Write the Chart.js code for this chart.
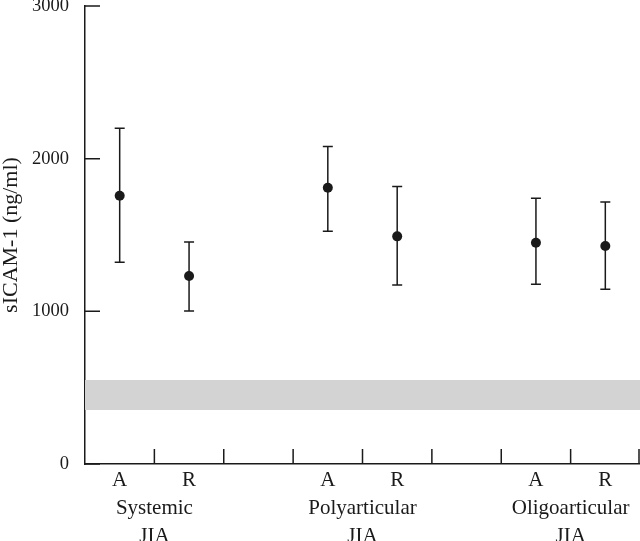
<!DOCTYPE html>
<html>
<head>
<meta charset="utf-8">
<script src="https://cdn.jsdelivr.net/npm/chart.js@4.4.0/dist/chart.umd.min.js"></script>
<style>
  html, body { margin: 0; padding: 0; background: #fff; }
  #wrap { width: 640px; height: 541px; }
</style>
</head>
<body>
<div id="wrap"><canvas id="chart"></canvas></div>
<script>
const groups = [['Systemic', 'JIA'], ['Polyarticular', 'JIA'], ['Oligoarticular', 'JIA']];
const phases = ['A', 'R'];
const means = [1757, 1231, 1810, 1491, 1449, 1428];
const lows = [1321, 1002, 1524, 1172, 1177, 1144];
const highs = [2200, 1454, 2080, 1818, 1740, 1716];
const normalRange = [354, 550];
const yTicks = [0, 1000, 2000, 3000];

// one empty slot between groups, none after the last one
const slotsPerGroup = phases.length + 1;
const slotCount = groups.length * slotsPerGroup - 1;
const font = "'Liberation Serif', 'Times New Roman', serif";
const ink = '#1a1a1a';

const points = means.map((m, i) => {
  const g = Math.floor(i / phases.length), p = i % phases.length;
  return { x: g * slotsPerGroup + p + 0.5, y: m };
});

const tickLabels = {};
groups.forEach((g, gi) => {
  phases.forEach((p, pi) => { tickLabels[gi * slotsPerGroup + pi + 0.5] = p; });
  tickLabels[gi * slotsPerGroup + phases.length / 2] = ['', ...g];
});

const errorBars = {
  id: 'errorBars',
  beforeDatasetDraw(chart, args) {
    if (args.index !== 2) return;
    const { ctx, scales: { x, y } } = chart;
    ctx.save();
    ctx.strokeStyle = ink;
    ctx.lineWidth = 1.5;
    points.forEach((p, i) => {
      const px = x.getPixelForValue(p.x);
      const top = y.getPixelForValue(highs[i]);
      const bot = y.getPixelForValue(lows[i]);
      ctx.beginPath();
      ctx.moveTo(px, top); ctx.lineTo(px, bot);
      ctx.moveTo(px - 5, top); ctx.lineTo(px + 5, top);
      ctx.moveTo(px - 5, bot); ctx.lineTo(px + 5, bot);
      ctx.stroke();
    });
    ctx.restore();
  },
  afterDraw(chart) {
    // tick marks point inward
    const { ctx, scales: { x, y } } = chart;
    ctx.save();
    ctx.strokeStyle = ink;
    ctx.lineWidth = 1.5;
    ctx.beginPath();
    yTicks.forEach(v => {
      const py = y.getPixelForValue(v);
      ctx.moveTo(x.left, py); ctx.lineTo(x.left + 15, py);
    });
    for (let s = 1; s <= slotCount; s++) {
      const px = Math.min(x.getPixelForValue(s), chart.width - 1);
      ctx.moveTo(px, y.bottom); ctx.lineTo(px, y.bottom - 15);
    }
    ctx.stroke();
    ctx.restore();
  }
};

new Chart(document.getElementById('chart'), {
  type: 'scatter',
  data: {
    datasets: [
      {
        data: [{ x: 0, y: normalRange[0] }, { x: slotCount, y: normalRange[0] }],
        showLine: true, borderWidth: 0, pointRadius: 0
      },
      {
        data: [{ x: 0, y: normalRange[1] }, { x: slotCount, y: normalRange[1] }],
        showLine: true, borderWidth: 0, pointRadius: 0,
        fill: '-1', backgroundColor: '#d3d3d3'
      },
      {
        data: points,
        pointRadius: 5, backgroundColor: ink, borderWidth: 0
      }
    ]
  },
  options: {
    responsive: true,
    maintainAspectRatio: false,
    animation: false,
    layout: { autoPadding: false, padding: { top: 6, right: 0, left: 0, bottom: 0 } },
    plugins: { legend: { display: false }, tooltip: { enabled: false } },
    scales: {
      x: {
        type: 'linear', min: 0, max: slotCount,
        afterBuildTicks: s => {
          s.ticks = Object.keys(tickLabels).map(Number).sort((a, b) => a - b).map(v => ({ value: v }));
        },
        grid: { display: false, drawTicks: false },
        border: { display: true, color: ink, width: 1.5 },
        ticks: {
          autoSkip: false, maxRotation: 0, padding: 3, color: ink,
          font: { family: font, size: 21, lineHeight: 1.33 },
          callback: v => tickLabels[v]
        },
        afterFit: s => { s.height = 77; }
      },
      y: {
        min: 0, max: 3000,
        afterBuildTicks: s => { s.ticks = yTicks.map(v => ({ value: v })); },
        grid: { display: false, drawTicks: false },
        border: { display: true, color: ink, width: 1.5 },
        ticks: { padding: 16, color: ink, font: { family: font, size: 18.5 }, callback: v => String(v) },
        title: {
          display: true, text: 'sICAM-1 (ng/ml)', color: ink, padding: 0,
          font: { family: font, size: 22, lineHeight: 1 }
        },
        afterFit: s => { s.width = 85; s.paddingTop = 0; s.paddingBottom = 0; }
      }
    }
  },
  plugins: [errorBars]
});
</script>
</body>
</html>
